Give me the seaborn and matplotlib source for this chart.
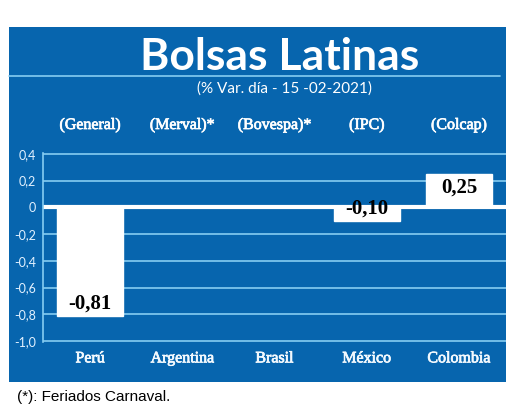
import matplotlib
matplotlib.use("Agg")
import matplotlib.pyplot as plt
import matplotlib.transforms as mtransforms
import matplotlib.patheffects as pe
from matplotlib.patches import Rectangle
from matplotlib.lines import Line2D
import numpy as np
import pandas as pd
import seaborn as sns

OUT_PATH = "out.png"

# data
countries = ["Perú", "Argentina", "Brasil", "México", "Colombia"]
indices = ["(General)", "(Merval)*", "(Bovespa)*", "(IPC)", "(Colcap)"]
var_pct = [-0.81, np.nan, np.nan, -0.10, 0.25]   # Argentina / Brasil: feriado
y_ticks = [0.4, 0.2, 0.0, -0.2, -0.4, -0.6, -0.8, -1.0]

title = "Bolsas Latinas"
subtitle = "(% Var. día - 15 -02-2021)"
footnote = "(*): Feriados Carnaval."

BLUE = "#0765ae"
LIGHT = "#86cdf2"

df = pd.DataFrame({"pais": countries, "var": var_pct})


def fmt_es(v):
    return f"{v:.2f}".replace(".", ",")


sns.set_theme(style="white")
plt.rcParams["font.family"] = ["Liberation Sans", "DejaVu Sans"]

fig = plt.figure(figsize=(5.2, 4.15), dpi=100, facecolor="white")

# blue panel + rule under the title
fig.patches.append(Rectangle((9 / 520, 33 / 415), 497 / 520, 355 / 415,
                             transform=fig.transFigure, facecolor=BLUE,
                             edgecolor="none", zorder=-1))
fig.lines.append(Line2D([9 / 520, 500 / 520], [1 - 76 / 415, 1 - 76 / 415],
                        transform=fig.transFigure, color=LIGHT, lw=1.2))

fig.text(0.537, 1 - 70 / 415, title, ha="center", va="baseline",
         fontsize=32, fontweight="bold", color="white", family="Lato")
fig.text(0.548, 1 - 89 / 415, subtitle, ha="center", va="center",
         fontsize=11, color="white", family="Lato")
fig.text(17 / 520, 1 - 397 / 415, footnote, ha="left", va="center",
         fontsize=11, color="black", family="Liberation Sans")

ax = fig.add_axes([43 / 520, 73 / 415, 463 / 520, 189 / 415])
ax.set_facecolor("none")

sns.barplot(data=df, x="pais", y="var", order=countries, color="white",
            width=0.72, saturation=1, errorbar=None, ax=ax, zorder=3)

ax.set_ylim(-1.006, 0.406)
ax.set_xlim(-0.51, 4.51)
ax.set_yticks(y_ticks)
ax.set_yticklabels(["0" if t == 0 else f"{t:.1f}".replace(".", ",") for t in y_ticks])
ax.yaxis.grid(True, color=LIGHT, lw=1.2)
ax.set_axisbelow(True)
ax.axhline(0, color="white", lw=3, zorder=2)
for s in ["top", "right", "bottom"]:
    ax.spines[s].set_visible(False)
ax.spines["left"].set_color(LIGHT)
ax.spines["left"].set_linewidth(1.2)
ax.tick_params(axis="y", length=0, pad=5, labelsize=9, labelcolor="#e2f1ff")
ax.tick_params(axis="x", length=0, pad=6, labelsize=11.5, labelcolor="#f2f9ff")

bold_ish = [pe.withStroke(linewidth=0.5, foreground="white")]
for lbl in ax.get_yticklabels():
    lbl.set_family("Lato")
for lbl in ax.get_xticklabels():
    lbl.set_family("Liberation Serif")
    lbl.set_path_effects(bold_ish)
ax.set_xlabel("")
ax.set_ylabel("")

# index names above the plot
trans = mtransforms.blended_transform_factory(ax.transData, ax.transAxes)
for i, name in enumerate(indices):
    ax.text(i, 1.148, name, transform=trans, ha="center", va="center",
            fontsize=11.5, color="white", family="Liberation Serif",
            path_effects=bold_ish)

# value labels
for i, v in enumerate(var_pct):
    if np.isnan(v):
        continue
    if v < 0:
        ax.annotate(fmt_es(v), (i, v), xytext=(0, 1.5), textcoords="offset points",
                    ha="center", va="bottom", fontsize=15, fontweight="bold",
                    color="black", family="Liberation Serif", zorder=5)
    else:
        ax.annotate(fmt_es(v), (i, v), xytext=(0, -3), textcoords="offset points",
                    ha="center", va="top", fontsize=15, fontweight="bold",
                    color="black", family="Liberation Serif", zorder=5)

fig.savefig(OUT_PATH, dpi=100, facecolor="white")
